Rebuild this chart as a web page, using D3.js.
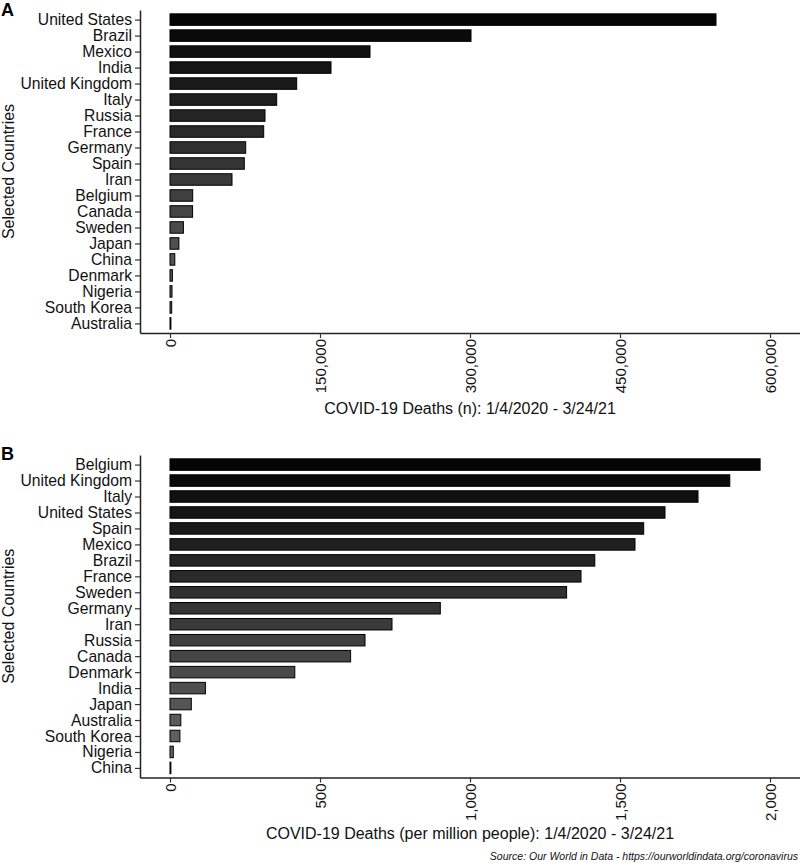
<!DOCTYPE html>
<html>
<head>
<meta charset="utf-8">
<script src="https://cdn.jsdelivr.net/npm/d3@7"></script>
<style>
  body { margin: 0; background: #fff; }
  svg { display: block; font-family: "Liberation Sans", Arial, sans-serif; }
</style>
</head>
<body>
<svg id="chart" width="800" height="864"></svg>
<script>
// ---- Data ----
const countriesA = ["United States","Brazil","Mexico","India","United Kingdom","Italy","Russia","France","Germany","Spain","Iran","Belgium","Canada","Sweden","Japan","China","Denmark","Nigeria","South Korea","Australia"];
const deathsA = [546000, 301000, 200000, 161000, 126700, 106700, 95000, 93700, 75700, 74300, 62000, 22700, 22600, 13400, 8900, 4800, 2400, 2000, 1700, 900];
const ticksA = [0, 150000, 300000, 450000, 600000];

const countriesB = ["Belgium","United Kingdom","Italy","United States","Spain","Mexico","Brazil","France","Sweden","Germany","Iran","Russia","Canada","Denmark","India","Japan","Australia","South Korea","Nigeria","China"];
const deathsPerMillionB = [1967, 1866, 1760, 1650, 1579, 1550, 1416, 1370, 1322, 901, 740, 650, 602, 416, 118, 71, 36, 33, 11, 3];
const ticksB = [0, 500, 1000, 1500, 2000];

const titleA = "COVID-19 Deaths (n): 1/4/2020 - 3/24/21";
const titleB = "COVID-19 Deaths (per million people): 1/4/2020 - 3/24/21";
const yTitle = "Selected Countries";
const sourceText = "Source: Our World in Data - https://ourworldindata.org/coronavirus";

// ---- Drawing ----
const svg = d3.select("#chart");

function panel(opts) {
  const { countries, values, ticks, xDomain, yRange, axisY, title, titleY, label, labelY } = opts;
  const x = d3.scaleLinear().domain(xDomain).range([140, 800]);
  const y = d3.scalePoint().domain(countries).range(yRange).padding(0.6);
  const step = y.step();
  const h = step * 0.72;
  const n = countries.length;
  const fill = d3.scaleLinear().domain([0, n - 1]).range(["#050505", "#6a6a6a"]);

  const g = svg.append("g");

  g.selectAll("rect.bar").data(countries).join("rect")
    .attr("class", "bar")
    .attr("x", x(0))
    .attr("y", d => y(d) - h / 2)
    .attr("width", (d, i) => Math.max(0.5, x(values[i]) - x(0)))
    .attr("height", h)
    .attr("fill", (d, i) => fill(i))
    .attr("stroke", "#000")
    .attr("stroke-width", 1);

  // y axis
  const ya = g.append("g").attr("transform", "translate(140,0)")
    .call(d3.axisLeft(y).tickSize(5).tickSizeOuter(0).tickPadding(3));
  ya.select(".domain").attr("stroke", "#222").attr("stroke-width", 1.5);
  ya.selectAll(".tick line").attr("stroke", "#333").attr("stroke-width", 1.2);
  ya.selectAll(".tick text").attr("font-size", "15.7px").attr("fill", "#111")
    .attr("font-family", "Liberation Sans, Arial, sans-serif");

  // x axis
  const xa = g.append("g").attr("transform", `translate(0,${axisY})`)
    .call(d3.axisBottom(x).tickValues(ticks).tickFormat(d3.format(",")).tickSize(5).tickSizeOuter(0));
  xa.select(".domain").attr("stroke", "#222").attr("stroke-width", 1.5);
  xa.selectAll(".tick line").attr("stroke", "#333").attr("stroke-width", 1.2);
  xa.selectAll(".tick text")
    .attr("font-size", "15px").attr("fill", "#111")
    .attr("font-family", "Liberation Sans, Arial, sans-serif")
    .attr("transform", "rotate(-90)")
    .attr("x", -6).attr("y", 0).attr("dy", "0.35em")
    .attr("text-anchor", "end");

  // x title
  g.append("text")
    .attr("x", 470).attr("y", titleY)
    .attr("text-anchor", "middle")
    .attr("font-size", "16px").attr("fill", "#111")
    .text(title);

  // y title
  const cy = (yRange[0] + yRange[1]) / 2;
  g.append("text")
    .attr("transform", `translate(14,${cy}) rotate(-90)`)
    .attr("text-anchor", "middle")
    .attr("font-size", "16px").attr("fill", "#111")
    .text(yTitle);

  // panel label
  g.append("text")
    .attr("x", 1).attr("y", labelY)
    .attr("font-size", "18px").attr("font-weight", "bold").attr("fill", "#000")
    .text(label);
}

panel({
  countries: countriesA,
  values: deathsA,
  ticks: ticksA,
  xDomain: [-30000, 630000],
  yRange: [10, 333],
  axisY: 333,
  title: titleA,
  titleY: 414,
  label: "A",
  labelY: 16
});

panel({
  countries: countriesB,
  values: deathsPerMillionB,
  ticks: ticksB,
  xDomain: [-100, 2100],
  yRange: [455, 777.5],
  axisY: 777.5,
  title: titleB,
  titleY: 839,
  label: "B",
  labelY: 460
});

svg.append("text")
  .attr("x", 798).attr("y", 860)
  .attr("text-anchor", "end")
  .attr("font-size", "10.5px").attr("font-style", "italic").attr("fill", "#111")
  .text(sourceText);
</script>
</body>
</html>
